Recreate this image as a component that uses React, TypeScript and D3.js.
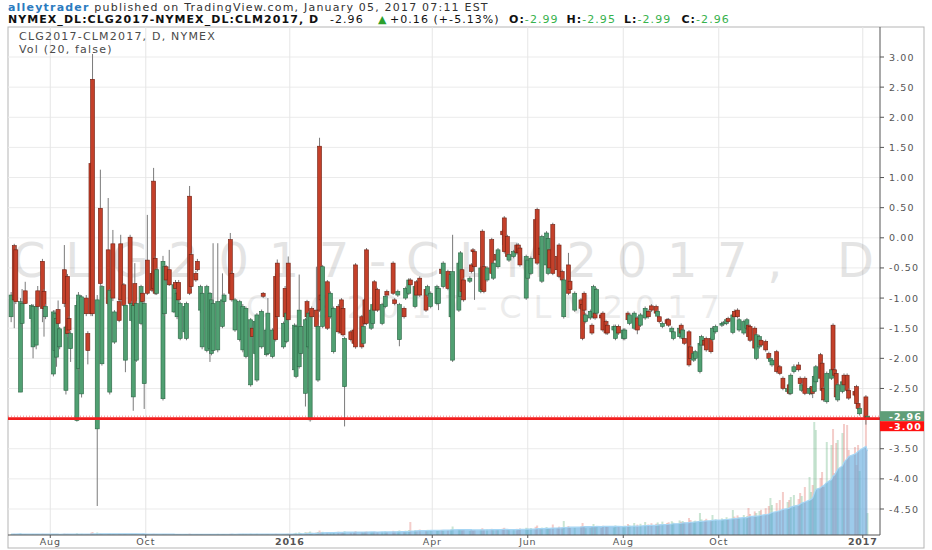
import React from 'react'
import * as d3 from 'd3'

// daily bars: date, open, high, low, close, volume
const candles: [string, number, number, number, number, number][] = [
    ["2015-07-07", -1.31, -0.9, -1.4, -0.95, 8],
    ["2015-07-09", -0.13, -0.1, -1.5, -1.03, 12],
    ["2015-07-10", -0.2, -0.15, -1.1, -1.06, 6],
    ["2015-07-13", -2.56, -1.0, -2.56, -1.06, 15],
    ["2015-07-14", -1.42, -0.85, -1.5, -1.09, 5],
    ["2015-07-16", -0.88, -0.73, -1.1, -1.09, 9],
    ["2015-07-20", -1.34, -1.1, -1.4, -1.12, 4],
    ["2015-07-21", -1.81, -1.1, -2.0, -1.14, 10],
    ["2015-07-23", -1.78, -1.1, -1.85, -1.14, 6],
    ["2015-07-24", -0.88, -0.8, -1.2, -1.14, 7],
    ["2015-07-27", -0.39, -0.35, -1.4, -1.17, 12],
    ["2015-07-28", -0.89, -0.85, -1.64, -1.17, 5],
    ["2015-07-29", -1.31, -1.1, -1.35, -1.14, 6],
    ["2015-08-03", -2.26, -1.2, -2.3, -1.23, 10],
    ["2015-08-04", -1.87, -1.2, -1.9, -1.26, 6],
    ["2015-08-05", -1.98, -1.3, -2.14, -1.34, 8],
    ["2015-08-06", -1.19, -1.04, -1.45, -1.42, 5],
    ["2015-08-07", -1.81, -1.48, -1.85, -1.51, 4],
    ["2015-08-10", -0.53, -0.12, -1.15, -1.09, 14],
    ["2015-08-11", -2.53, -1.45, -2.6, -1.48, 9],
    ["2015-08-12", -0.64, -0.6, -1.65, -1.59, 11],
    ["2015-08-13", -1.34, -1.3, -1.56, -1.53, 6],
    ["2015-08-14", -1.84, -1.55, -2.06, -1.59, 5],
    ["2015-08-18", -3.03, -1.05, -3.05, -1.12, 18],
    ["2015-08-19", -2.17, -0.9, -2.2, -0.95, 8],
    ["2015-08-21", -2.59, -0.95, -2.65, -0.98, 12],
    ["2015-08-24", -1.0, -0.95, -1.3, -1.26, 6],
    ["2015-08-25", -1.59, -1.55, -2.1, -1.87, 9],
    ["2015-08-27", 1.23, 1.25, -1.3, -1.26, 22],
    ["2015-08-28", 2.63, 3.05, -1.3, -1.26, 30],
    ["2015-08-31", -3.17, -0.95, -4.45, -1.03, 25],
    ["2015-09-02", 0.49, 1.13, -0.8, -0.76, 14],
    ["2015-09-03", -2.09, -0.78, -2.12, -0.81, 8],
    ["2015-09-07", -0.2, 0.66, -1.12, -1.09, 10],
    ["2015-09-08", -2.56, -0.85, -2.6, -0.87, 12],
    ["2015-09-10", -0.1, 0.13, -1.05, -1.0, 9],
    ["2015-09-11", -1.73, -1.2, -1.76, -1.23, 6],
    ["2015-09-14", -1.06, -1.0, -1.4, -1.37, 11],
    ["2015-09-15", -0.1, 0.05, -1.05, -1.03, 7],
    ["2015-09-17", -0.78, -0.75, -1.15, -1.12, 8],
    ["2015-09-18", -2.03, -1.1, -2.23, -1.12, 10],
    ["2015-09-21", 0.01, 0.05, -1.12, -1.09, 5],
    ["2015-09-22", -1.37, -1.05, -1.4, -1.09, 12],
    ["2015-09-23", -2.64, -1.1, -2.87, -1.12, 6],
    ["2015-09-24", -0.76, -0.42, -1.15, -1.12, 9],
    ["2015-09-25", -2.03, -1.05, -2.06, -1.09, 7],
    ["2015-09-28", -1.42, -0.78, -1.45, -0.81, 5],
    ["2015-09-29", -0.92, -0.9, -1.1, -1.06, 11],
    ["2015-09-30", -2.42, -1.05, -2.84, -1.09, 8],
    ["2015-10-02", -0.37, 0.38, -0.95, -0.92, 6],
    ["2015-10-05", -0.59, -0.55, -0.9, -0.87, 9],
    ["2015-10-06", 0.94, 1.16, -0.87, -0.84, 12],
    ["2015-10-07", -0.34, -0.3, -0.95, -0.92, 5],
    ["2015-10-08", -0.92, -0.5, -0.95, -0.53, 8],
    ["2015-10-12", -2.67, -0.3, -2.7, -0.39, 10],
    ["2015-10-13", -1.26, -0.45, -1.3, -0.48, 6],
    ["2015-10-14", -0.48, -0.45, -0.75, -0.7, 7],
    ["2015-10-16", -0.53, -0.2, -0.8, -0.78, 5],
    ["2015-10-19", -1.23, -0.75, -1.25, -0.78, 9],
    ["2015-10-20", -0.74, -0.7, -0.87, -0.84, 4],
    ["2015-10-21", -1.31, -0.9, -1.35, -0.92, 8],
    ["2015-10-22", -0.74, -0.7, -1.06, -1.03, 6],
    ["2015-10-23", -1.67, -1.06, -1.7, -1.09, 7],
    ["2015-10-26", -1.56, -1.1, -1.6, -1.14, 5],
    ["2015-10-27", -1.67, -1.06, -1.7, -1.09, 9],
    ["2015-10-29", 0.69, 0.86, -0.95, -0.92, 14],
    ["2015-10-30", -0.28, -0.25, -0.85, -0.81, 6],
    ["2015-11-02", -0.59, -0.55, -0.73, -0.7, 5],
    ["2015-11-03", -0.39, -0.35, -0.56, -0.53, 7],
    ["2015-11-05", -1.2, -0.78, -1.25, -0.81, 8],
    ["2015-11-06", -1.81, -0.9, -1.85, -0.92, 6],
    ["2015-11-09", -1.87, -0.78, -1.9, -0.81, 10],
    ["2015-11-11", -1.84, -0.9, -2.06, -0.92, 7],
    ["2015-11-12", -1.92, -1.0, -1.95, -1.03, 5],
    ["2015-11-13", -1.87, -0.09, -1.9, -1.09, 9],
    ["2015-11-16", -1.86, -0.09, -1.9, -1.06, 11],
    ["2015-11-19", -1.47, -0.59, -1.5, -1.03, 8],
    ["2015-11-20", -1.06, -0.92, -1.1, -0.95, 6],
    ["2015-11-24", -0.03, 0.08, -0.95, -0.92, 12],
    ["2015-11-25", -0.59, -0.55, -1.06, -1.03, 7],
    ["2015-11-27", -1.53, -1.0, -1.56, -1.03, 5],
    ["2015-11-30", -1.69, -1.03, -1.72, -1.06, 9],
    ["2015-12-02", -1.86, -1.1, -1.9, -1.14, 11],
    ["2015-12-04", -1.97, -1.14, -2.0, -1.17, 8],
    ["2015-12-07", -2.44, -1.33, -2.47, -1.36, 13],
    ["2015-12-08", -1.5, -1.47, -1.67, -1.64, 6],
    ["2015-12-10", -1.92, -1.36, -1.95, -1.39, 9],
    ["2015-12-11", -2.36, -1.25, -2.39, -1.28, 12],
    ["2015-12-14", -1.81, -1.19, -1.84, -1.22, 7],
    ["2015-12-15", -0.92, -0.9, -1.0, -0.97, 5],
    ["2015-12-17", -1.94, -1.5, -1.97, -1.53, 8],
    ["2015-12-18", -1.92, -1.0, -1.95, -1.25, 10],
    ["2015-12-21", -1.97, -1.5, -2.0, -1.53, 6],
    ["2015-12-23", -0.64, -0.6, -1.72, -1.69, 12],
    ["2015-12-24", -0.42, -0.36, -1.34, -1.31, 9],
    ["2015-12-28", -1.81, -1.39, -1.84, -1.42, 7],
    ["2015-12-29", -0.84, -0.8, -1.34, -1.31, 8],
    ["2015-12-30", -1.72, -1.22, -1.75, -1.25, 11],
    ["2015-12-31", -0.42, -0.31, -1.39, -1.36, 13],
    ["2016-01-04", -2.19, -1.42, -2.22, -1.45, 18],
    ["2016-01-05", -2.3, -1.44, -2.33, -1.47, 22],
    ["2016-01-07", -2.14, -0.61, -2.17, -1.2, 26],
    ["2016-01-08", -1.92, -1.44, -1.95, -1.47, 20],
    ["2016-01-11", -2.58, -1.33, -2.8, -1.36, 30],
    ["2016-01-12", -1.06, -1.03, -1.34, -1.31, 24],
    ["2016-01-13", -1.81, -1.22, -1.84, -1.25, 28],
    ["2016-01-14", -3.02, -1.22, -3.05, -1.25, 35],
    ["2016-01-15", -1.17, -1.14, -1.34, -1.31, 22],
    ["2016-01-18", -1.2, -0.48, -1.5, -1.47, 26],
    ["2016-01-19", -2.36, -1.44, -2.39, -1.47, 30],
    ["2016-01-20", 1.52, 1.66, -1.23, -1.2, 45],
    ["2016-01-21", -0.95, -0.92, -1.06, -1.03, 28],
    ["2016-01-22", -1.47, -0.45, -1.5, -0.48, 32],
    ["2016-01-25", -0.73, -0.7, -1.53, -1.5, 25],
    ["2016-01-27", -1.31, -0.89, -1.34, -0.92, 30],
    ["2016-01-29", -1.89, -1.14, -1.92, -1.17, 27],
    ["2016-02-01", -1.14, -1.1, -1.59, -1.56, 33],
    ["2016-02-03", -1.03, -1.0, -1.61, -1.58, 29],
    ["2016-02-04", -1.17, -1.14, -1.64, -1.61, 24],
    ["2016-02-05", -2.47, -1.64, -3.13, -1.67, 38],
    ["2016-02-09", -1.56, -1.53, -1.72, -1.69, 26],
    ["2016-02-11", -1.53, -1.5, -1.78, -1.75, 30],
    ["2016-02-12", -0.45, -0.42, -1.84, -1.81, 40],
    ["2016-02-16", -1.31, -1.28, -1.84, -1.81, 28],
    ["2016-02-17", -1.75, -1.44, -1.78, -1.47, 25],
    ["2016-02-18", -1.03, -1.0, -1.45, -1.42, 31],
    ["2016-02-19", -0.2, -0.17, -1.45, -1.42, 36],
    ["2016-02-22", -1.5, -1.17, -1.53, -1.2, 27],
    ["2016-02-23", -1.42, -1.08, -1.45, -1.11, 30],
    ["2016-02-24", -0.73, -0.7, -1.23, -1.2, 34],
    ["2016-02-26", -0.86, -0.83, -1.23, -1.2, 29],
    ["2016-02-29", -1.42, -1.08, -1.45, -1.11, 32],
    ["2016-03-02", -1.14, -0.94, -1.17, -0.97, 38],
    ["2016-03-03", -0.89, -0.86, -0.98, -0.95, 30],
    ["2016-03-07", -0.42, -0.39, -0.95, -0.92, 42],
    ["2016-03-08", -1.03, -1.0, -1.12, -1.09, 35],
    ["2016-03-10", -0.95, -0.86, -0.98, -0.89, 40],
    ["2016-03-11", -1.69, -1.08, -1.8, -1.11, 46],
    ["2016-03-14", -1.17, -1.14, -1.34, -1.31, 38],
    ["2016-03-15", -1.0, -0.81, -1.03, -0.84, 44],
    ["2016-03-17", -0.92, -0.67, -0.95, -0.7, 50],
    ["2016-03-18", -0.7, -0.67, -0.81, -0.78, 130],
    ["2016-03-21", -1.14, -0.78, -1.17, -0.81, 48],
    ["2016-03-22", -0.73, -0.7, -0.98, -0.95, 42],
    ["2016-03-24", -0.67, -0.64, -0.98, -0.95, 55],
    ["2016-03-28", -0.86, -0.83, -1.23, -1.2, 47],
    ["2016-03-29", -0.95, -0.78, -0.98, -0.81, 52],
    ["2016-03-31", -1.14, -0.89, -1.17, -0.92, 45],
    ["2016-04-04", -1.09, -0.78, -1.12, -0.81, 48],
    ["2016-04-05", -1.09, -0.81, -1.2, -0.84, 40],
    ["2016-04-07", -0.52, -0.49, -0.62, -0.59, 52],
    ["2016-04-08", -0.81, -0.39, -0.84, -0.42, 45],
    ["2016-04-11", -0.56, -0.53, -0.87, -0.84, 50],
    ["2016-04-13", -1.31, -0.58, -1.34, -0.61, 56],
    ["2016-04-14", -2.03, 0.05, -2.06, -0.56, 85],
    ["2016-04-18", -1.2, -0.39, -1.23, -0.42, 58],
    ["2016-04-19", -0.97, -0.22, -1.0, -0.25, 52],
    ["2016-04-20", -0.53, -0.5, -0.92, -0.89, 46],
    ["2016-04-21", -0.7, -0.67, -1.06, -1.03, 54],
    ["2016-04-25", -0.72, -0.64, -0.75, -0.67, 40],
    ["2016-04-26", -0.45, -0.42, -0.59, -0.56, 48],
    ["2016-04-27", -0.2, -0.17, -0.26, -0.23, 44],
    ["2016-04-28", -0.23, -0.2, -1.03, -0.48, 50],
    ["2016-05-02", -0.89, -0.47, -0.92, -0.5, 55],
    ["2016-05-03", 0.11, 0.14, -0.89, -0.86, 68],
    ["2016-05-04", -0.48, -0.45, -0.92, -0.89, 50],
    ["2016-05-06", -0.7, -0.47, -0.73, -0.5, 56],
    ["2016-05-09", -0.03, 0.0, -0.62, -0.59, 62],
    ["2016-05-10", -0.67, -0.39, -0.7, -0.42, 48],
    ["2016-05-12", -0.28, -0.25, -0.4, -0.37, 54],
    ["2016-05-13", -0.48, -0.17, -0.51, -0.2, 58],
    ["2016-05-16", 0.11, 0.14, -0.12, 0.05, 64],
    ["2016-05-17", 0.33, 0.36, -0.26, -0.23, 72],
    ["2016-05-19", 0.02, 0.05, -0.34, -0.31, 56],
    ["2016-05-20", -0.37, -0.25, -0.4, -0.28, 50],
    ["2016-05-23", -0.31, -0.2, -0.34, -0.23, 55],
    ["2016-05-25", -0.12, -0.09, -0.28, -0.25, 62],
    ["2016-05-26", -0.12, -0.09, -0.28, -0.25, 58],
    ["2016-05-27", -0.17, -0.14, -0.48, -0.45, 66],
    ["2016-05-31", -1.0, -0.28, -1.03, -0.31, 72],
    ["2016-06-01", -0.67, -0.34, -0.7, -0.37, 64],
    ["2016-06-03", -0.59, -0.31, -0.62, -0.34, 70],
    ["2016-06-06", 0.3, 0.33, -0.37, -0.34, 82],
    ["2016-06-07", 0.47, 0.5, -0.45, -0.42, 95],
    ["2016-06-09", -0.17, -0.14, -0.31, -0.28, 66],
    ["2016-06-10", -0.72, 0.05, -0.75, 0.02, 74],
    ["2016-06-13", -0.45, 0.11, -0.48, 0.08, 80],
    ["2016-06-14", -0.59, 0.02, -0.62, -0.01, 70],
    ["2016-06-15", -0.2, -0.17, -0.53, -0.5, 64],
    ["2016-06-17", 0.22, 0.25, -0.62, -0.59, 105],
    ["2016-06-20", -0.31, -0.28, -0.56, -0.53, 72],
    ["2016-06-21", -0.12, -0.09, -0.67, -0.64, 84],
    ["2016-06-23", -0.56, -0.53, -0.73, -0.7, 76],
    ["2016-06-24", -1.31, -0.67, -1.34, -0.7, 140],
    ["2016-06-27", -0.45, -0.25, -0.95, -0.92, 90],
    ["2016-06-28", -0.72, -0.69, -0.89, -0.86, 70],
    ["2016-07-01", -1.2, -0.89, -1.23, -0.92, 74],
    ["2016-07-05", -1.03, -1.0, -1.2, -1.17, 86],
    ["2016-07-06", -1.11, -1.08, -1.7, -1.67, 120],
    ["2016-07-07", -0.92, -0.89, -1.23, -1.2, 80],
    ["2016-07-08", -1.39, -1.25, -1.42, -1.28, 68],
    ["2016-07-11", -1.33, -1.19, -1.36, -1.22, 72],
    ["2016-07-12", -1.45, -1.42, -1.61, -1.58, 84],
    ["2016-07-13", -1.31, -0.78, -1.34, -0.81, 110],
    ["2016-07-14", -1.25, -1.22, -1.36, -1.33, 76],
    ["2016-07-15", -1.25, -0.83, -1.28, -0.86, 88],
    ["2016-07-18", -1.28, -1.25, -1.36, -1.33, 70],
    ["2016-07-19", -1.25, -1.22, -1.56, -1.53, 92],
    ["2016-07-21", -1.39, -1.36, -1.61, -1.58, 80],
    ["2016-07-22", -1.45, -1.42, -1.61, -1.58, 86],
    ["2016-07-26", -1.53, -1.44, -1.56, -1.47, 74],
    ["2016-07-27", -1.67, -1.44, -1.7, -1.47, 96],
    ["2016-07-29", -1.47, -1.44, -1.61, -1.58, 82],
    ["2016-08-01", -1.67, -1.5, -1.7, -1.53, 88],
    ["2016-08-02", -1.67, -1.5, -1.7, -1.53, 94],
    ["2016-08-04", -1.25, -1.22, -1.39, -1.36, 110],
    ["2016-08-05", -1.42, -1.25, -1.45, -1.28, 98],
    ["2016-08-08", -1.5, -1.22, -1.53, -1.25, 120],
    ["2016-08-10", -1.33, -1.3, -1.6, -1.53, 104],
    ["2016-08-12", -1.45, -1.25, -1.48, -1.28, 112],
    ["2016-08-15", -1.33, -1.14, -1.36, -1.17, 130],
    ["2016-08-17", -1.22, -1.19, -1.34, -1.31, 106],
    ["2016-08-19", -1.13, -1.1, -1.23, -1.2, 118],
    ["2016-08-22", -1.14, -1.11, -1.28, -1.25, 112],
    ["2016-08-23", -1.3, -1.19, -1.33, -1.22, 126],
    ["2016-08-24", -1.31, -1.28, -1.42, -1.39, 108],
    ["2016-08-26", -1.47, -1.39, -1.5, -1.42, 134],
    ["2016-08-29", -1.36, -1.33, -1.45, -1.42, 120],
    ["2016-08-30", -1.36, -1.33, -1.48, -1.45, 128],
    ["2016-09-01", -1.56, -1.47, -1.59, -1.5, 138],
    ["2016-09-02", -1.67, -1.53, -1.7, -1.56, 124],
    ["2016-09-06", -1.64, -1.47, -1.67, -1.5, 146],
    ["2016-09-07", -1.45, -1.42, -1.61, -1.58, 132],
    ["2016-09-08", -1.67, -1.5, -1.7, -1.53, 140],
    ["2016-09-09", -1.67, -1.64, -1.78, -1.75, 128],
    ["2016-09-12", -1.56, -1.53, -2.14, -2.11, 170],
    ["2016-09-13", -1.81, -1.78, -2.03, -2.0, 150],
    ["2016-09-15", -2.03, -1.89, -2.06, -1.92, 136],
    ["2016-09-16", -2.0, -1.86, -2.03, -1.89, 144],
    ["2016-09-19", -2.22, -1.72, -2.25, -1.75, 220],
    ["2016-09-20", -1.78, -1.61, -1.81, -1.64, 156],
    ["2016-09-22", -1.7, -1.67, -1.81, -1.78, 148],
    ["2016-09-23", -1.67, -1.64, -1.89, -1.86, 162],
    ["2016-09-26", -1.67, -1.64, -1.92, -1.89, 150],
    ["2016-09-27", -1.69, -1.47, -1.72, -1.5, 200],
    ["2016-09-29", -1.56, -1.44, -1.59, -1.47, 158],
    ["2016-10-03", -1.45, -1.39, -1.48, -1.42, 166],
    ["2016-10-04", -1.43, -1.38, -1.46, -1.41, 154],
    ["2016-10-06", -1.42, -1.33, -1.45, -1.36, 178],
    ["2016-10-07", -1.34, -1.31, -1.42, -1.39, 160],
    ["2016-10-10", -1.57, -1.25, -1.6, -1.28, 250],
    ["2016-10-11", -1.22, -1.19, -1.34, -1.31, 184],
    ["2016-10-13", -1.2, -1.17, -1.34, -1.31, 196],
    ["2016-10-14", -1.53, -1.33, -1.56, -1.36, 176],
    ["2016-10-17", -1.58, -1.36, -1.61, -1.39, 200],
    ["2016-10-19", -1.5, -1.33, -1.53, -1.36, 188],
    ["2016-10-20", -1.45, -1.42, -1.67, -1.64, 270],
    ["2016-10-21", -1.47, -1.44, -1.73, -1.7, 210],
    ["2016-10-24", -1.5, -1.47, -1.86, -1.83, 236],
    ["2016-10-25", -2.0, -1.58, -2.03, -1.61, 220],
    ["2016-10-27", -1.81, -1.61, -1.84, -1.64, 240],
    ["2016-10-28", -1.7, -1.67, -1.81, -1.78, 252],
    ["2016-10-31", -1.72, -1.69, -1.89, -1.86, 268],
    ["2016-11-02", -1.92, -1.89, -2.03, -2.0, 290],
    ["2016-11-03", -2.05, -1.97, -2.08, -2.0, 370],
    ["2016-11-04", -2.11, -2.0, -2.14, -2.03, 300],
    ["2016-11-07", -1.89, -1.86, -2.25, -2.22, 320],
    ["2016-11-09", -2.14, -2.11, -2.28, -2.25, 350],
    ["2016-11-11", -2.33, -2.3, -2.53, -2.5, 430],
    ["2016-11-14", -2.55, -2.47, -2.58, -2.5, 330],
    ["2016-11-15", -2.44, -2.41, -2.61, -2.58, 350],
    ["2016-11-16", -2.58, -2.25, -2.61, -2.28, 380],
    ["2016-11-18", -2.22, -2.1, -2.25, -2.14, 400],
    ["2016-11-21", -2.11, -2.06, -2.22, -2.19, 360],
    ["2016-11-22", -2.33, -2.3, -2.45, -2.42, 420],
    ["2016-11-23", -2.53, -2.41, -2.56, -2.44, 390],
    ["2016-11-25", -2.33, -2.3, -2.61, -2.58, 480],
    ["2016-11-28", -2.58, -2.47, -2.61, -2.5, 580],
    ["2016-11-29", -2.58, -2.47, -2.61, -2.5, 430],
    ["2016-11-30", -2.47, -2.44, -2.66, -2.58, 500],
    ["2016-12-01", -2.55, -2.27, -2.58, -2.3, 1130],
    ["2016-12-02", -2.39, -2.11, -2.42, -2.14, 1050],
    ["2016-12-05", -1.94, -1.91, -2.36, -2.33, 570],
    ["2016-12-06", -2.08, -2.05, -2.56, -2.53, 630],
    ["2016-12-07", -2.5, -2.47, -2.72, -2.69, 480],
    ["2016-12-09", -2.72, -2.22, -2.75, -2.25, 930],
    ["2016-12-12", -2.33, -2.16, -2.36, -2.19, 900],
    ["2016-12-13", -1.45, -1.42, -2.22, -2.19, 1060],
    ["2016-12-14", -2.19, -2.16, -2.31, -2.28, 620],
    ["2016-12-15", -2.25, -2.22, -2.67, -2.64, 920],
    ["2016-12-16", -2.69, -2.41, -2.72, -2.44, 950],
    ["2016-12-19", -2.55, -2.36, -2.58, -2.39, 1020],
    ["2016-12-20", -2.28, -2.25, -2.47, -2.44, 1110],
    ["2016-12-22", -2.28, -2.25, -2.56, -2.53, 1100],
    ["2016-12-23", -2.53, -2.5, -2.69, -2.66, 850],
    ["2016-12-27", -2.55, -2.52, -2.64, -2.61, 880],
    ["2016-12-28", -2.47, -2.44, -2.78, -2.75, 700],
    ["2016-12-29", -2.75, -2.72, -2.86, -2.83, 900],
    ["2016-12-30", -2.92, -2.8, -2.95, -2.83, 640],
    ["2017-01-03", -2.64, -2.61, -3.1, -2.99, 1280],
    ["2017-01-04", -2.99, -2.95, -2.99, -2.96, 220],
]

const priceTicks = [3, 2.5, 2, 1.5, 1, 0.5, 0, -0.5, -1, -1.5, -2, -2.5, -3, -3.5, -4, -4.5]
const timeTicks: [string, string, boolean][] = [
    ["2015-08-01", "Aug", false],
    ["2015-10-01", "Oct", false],
    ["2016-01-01", "2016", true],
    ["2016-04-01", "Apr", false],
    ["2016-06-01", "Jun", false],
    ["2016-08-01", "Aug", false],
    ["2016-10-01", "Oct", false],
    ["2017-01-01", "2017", true],
]
const lastClose = -2.96
const hLevel = -3.0
const ohlcLabels: [string, string][] = [["O:", "-2.99"], ["H:", "-2.95"], ["L:", "-2.99"], ["C:", "-2.96"]]

const UP = "#50a072", UP_LINE = "#2b6544"
const DOWN = "#c4402a", DOWN_LINE = "#6e1f12"
const WICK = "#7a7a7a"
const FONT = "'DejaVu Sans', Verdana, sans-serif"

export default function App() {
    const left = 8, right = 880, top = 27, bottom = 535
    const parse = d3.timeParse("%Y-%m-%d")
    const data = candles.map(([d, o, h, l, c, v]) => ({ date: parse(d)!, o, h, l, c, v }))

    const x = d3.scaleTime()
        .domain([new Date(2015, 6, 5), new Date(2017, 0, 12)])
        .range([left, right])
    const y = d3.scaleLinear().domain([-4.5, 3]).range([509, 57])
    const yVol = d3.scaleLinear().domain([0, 1280]).range([bottom, 407])

    // 20 bar volume average
    const volMA = data.map((d, i) => ({
        date: d.date,
        v: d3.mean(data.slice(Math.max(0, i - 19), i + 1), e => e.v)!,
    }))
    const maArea = d3.area<{ date: Date, v: number }>()
        .x(d => x(d.date)).y0(bottom).y1(d => yVol(d.v))
    const maLine = d3.line<{ date: Date, v: number }>()
        .x(d => x(d.date)).y(d => yVol(d.v))

    const bodyW = 4
    const closeY = y(lastClose)
    const boxH = 10
    const levelY = Math.max(y(hLevel), closeY + boxH)
    const hiddenTick = (t: number) => Math.abs(y(t) - closeY) < boxH || Math.abs(y(t) - levelY) < boxH

    return (
        <svg width={932} height={550} style={{ position: "absolute", left: 0, top: 0, background: "#fff" }}
            fontFamily={FONT}>
            <defs>
                <clipPath id="plot"><rect x={left} y={top} width={right - left} height={bottom - top} /></clipPath>
            </defs>

            {/* header */}
            <text x={8} y={11} fontSize={11} fill="#333" letterSpacing={1.2}>
                <tspan fill="#2b7bbf" fontWeight="bold">alleytrader</tspan>
                <tspan> published on TradingView.com, January 05, 2017 07:11 EST</tspan>
            </text>
            <text y={23} fontSize={11} fill="#111" letterSpacing={1.05}>
                <tspan x={8} fontWeight="bold">NYMEX_DL:CLG2017-NYMEX_DL:CLM2017, D</tspan>
                <tspan x={330}>-2.96</tspan>
                <tspan x={378} fill="#2ca02c">▲</tspan>
                <tspan x={390}>+0.16 (+-5.13%)</tspan>
                {ohlcLabels.map(([k, v], i) => (
                    <React.Fragment key={k}>
                        <tspan x={509 + i * 57.5} fontWeight="bold">{k}</tspan>
                        <tspan fill="#37b24d">{v}</tspan>
                    </React.Fragment>
                ))}
            </text>

            {/* frame */}
            <rect x={left} y={top} width={924 - left} height={548 - top} fill="#fff" stroke="#b5b5b5" />

            {/* grid */}
            {priceTicks.map(t => (
                <line key={"h" + t} x1={left} x2={right} y1={y(t)} y2={y(t)} stroke="#ebebeb" />
            ))}
            {timeTicks.map(([d]) => (
                <line key={"v" + d} x1={x(parse(d)!)} x2={x(parse(d)!)} y1={top} y2={bottom} stroke="#e6e6e6" />
            ))}

            {/* watermark */}
            <text x={12} y={277} fontSize={48} fill="#000" opacity={0.1} textLength={862} lengthAdjust="spacing">
                CLG2017-CLM2017, D
            </text>
            <text x={246} y={318} fontSize={32} fill="#000" opacity={0.07} textLength={474} lengthAdjust="spacing">
                CLG2017-CLM2017
            </text>

            <g clipPath="url(#plot)">
                {/* volume */}
                {data.map((d, i) => (
                    <rect key={"v" + i} x={x(d.date) - 1} width={2} y={yVol(d.v)} height={bottom - yVol(d.v)}
                        fill={d.c >= d.o ? "rgba(80,170,110,0.3)" : "rgba(220,90,80,0.3)"} />
                ))}
                <path d={maArea(volMA)!} fill="#5ba9de" opacity={0.6} />
                <path d={maLine(volMA)!} fill="none" stroke="#a7d6f4" strokeWidth={1.2} />

                {/* last close price line */}
                <line x1={left} x2={right} y1={closeY} y2={closeY} stroke="#f08080" strokeDasharray="1,2" />

                {/* candles */}
                {data.map((d, i) => {
                    const up = d.c >= d.o
                    const cx = x(d.date)
                    const y0 = y(Math.max(d.o, d.c)), y1 = y(Math.min(d.o, d.c))
                    return (
                        <g key={"c" + i}>
                            <line x1={cx} x2={cx} y1={y(d.h)} y2={y(d.l)} stroke={WICK} />
                            <rect x={cx - bodyW / 2} y={y0} width={bodyW} height={Math.max(1, y1 - y0)}
                                fill={up ? UP : DOWN} stroke={up ? UP_LINE : DOWN_LINE} strokeWidth={0.6} />
                        </g>
                    )
                })}

                {/* horizontal level */}
                <line x1={left} x2={right} y1={y(hLevel)} y2={y(hLevel)} stroke="#f21d1d" strokeWidth={2.6} />
            </g>

            {/* legend */}
            <text x={19} y={40} fontSize={11} fill="#4a4a4a" letterSpacing={1.2}>CLG2017-CLM2017, D, NYMEX</text>
            <text x={19} y={53} fontSize={11} fill="#4a4a4a" letterSpacing={1.2}>Vol (20, false)</text>

            {/* axes */}
            <line x1={right} x2={right} y1={top} y2={bottom} stroke="#555" />
            <line x1={left} x2={right} y1={bottom} y2={bottom} stroke="#555" />
            {priceTicks.map(t => (
                <g key={"yt" + t}>
                    <line x1={right} x2={right + 4} y1={y(t)} y2={y(t)} stroke="#555" />
                    {!hiddenTick(t) && (
                        <text x={889} y={y(t) + 3.5} fontSize={9.5} fill="#555" letterSpacing={1.1}>{t.toFixed(2)}</text>
                    )}
                </g>
            ))}
            {timeTicks.map(([d, label, bold]) => (
                <g key={"xt" + d}>
                    <line x1={x(parse(d)!)} x2={x(parse(d)!)} y1={bottom} y2={bottom + 3} stroke="#555" />
                    <text x={x(parse(d)!)} y={545} fontSize={9.5} fill="#555" textAnchor="middle" letterSpacing={0.8}
                        fontWeight={bold ? "bold" : "normal"}>{label}</text>
                </g>
            ))}

            {/* price labels */}
            <rect x={right} y={closeY - boxH / 2} width={924 - right} height={boxH} fill="#5f9e78" />
            <text x={889} y={closeY + 3.5} fontSize={9.5} fill="#fff" fontWeight="bold" letterSpacing={1.1}>
                {lastClose.toFixed(2)}
            </text>
            <rect x={right} y={levelY - boxH / 2} width={924 - right} height={boxH} fill="#ff1010" />
            <text x={889} y={levelY + 3.5} fontSize={9.5} fill="#fff" fontWeight="bold" letterSpacing={1.1}>
                {hLevel.toFixed(2)}
            </text>
        </svg>
    )
}
